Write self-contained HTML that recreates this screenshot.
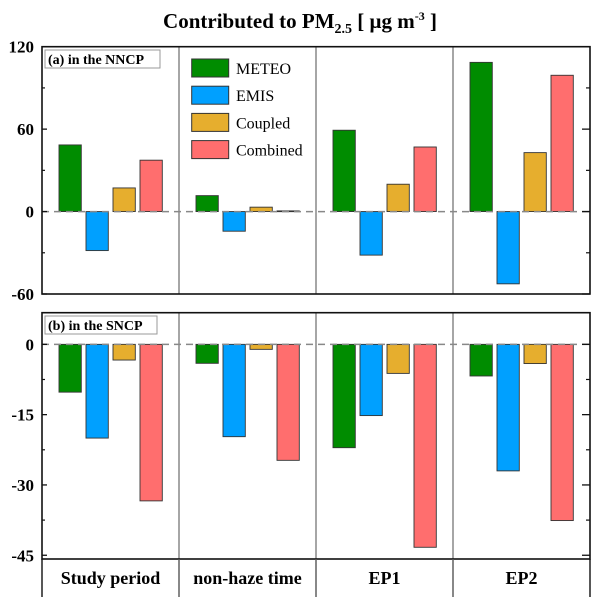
<!DOCTYPE html>
<html><head><meta charset="utf-8"><style>
body{margin:0;background:#fff}
svg{display:block;font-family:"Liberation Serif",serif}
svg text{font-family:"Liberation Serif",serif}
</style></head><body>
<svg id="c" width="600" height="597" viewBox="0 0 600 597">
<text x="300" y="28" text-anchor="middle" font-size="21" font-weight="bold" font-family="Liberation Serif, serif">Contributed to PM<tspan font-size="14" dy="5">2.5</tspan><tspan dy="-5"> [ μg m</tspan><tspan font-size="12" dy="-8">-3</tspan><tspan dy="8"> ]</tspan></text>
<g id="g"></g>
</svg>
<script>
const categories=["Study period","non-haze time","EP1","EP2"];
const seriesNames=["METEO","EMIS","Coupled","Combined"];
const colors=["#008C00","#00A0FF","#E6AE2E","#FF6E6E"];
const nncpMeteo=[48.5,11.6,59.2,108.6];
const nncpEmis=[-28.4,-14.3,-31.7,-52.6];
const nncpCoupled=[17.2,3.2,19.9,42.9];
const nncpCombined=[37.4,0.5,47,99.2];
const sncpMeteo=[-10.2,-4.05,-22.05,-6.75];
const sncpEmis=[-20.0,-19.7,-15.2,-27.0];
const sncpCoupled=[-3.35,-1.07,-6.2,-4.1];
const sncpCombined=[-33.4,-24.75,-43.3,-37.6];
const ticksA=[120,60,0,-60];
const ticksB=[0,-15,-30,-45];
const NS="http://www.w3.org/2000/svg";
const g=document.getElementById('g');
function mk(t,a,p){const e=document.createElementNS(NS,t);for(const k in a)e.setAttribute(k,a[k]);if(t==='text')e.setAttribute('font-family','Liberation Serif, serif');(p||g).appendChild(e);return e;}
const X0=42,X1=590,CW=(X1-X0)/4;
const panels=[
 {top:46.7,bot:294,min:-60,max:120,ticks:ticksA,minor:[90,30,-30],data:[nncpMeteo,nncpEmis,nncpCoupled,nncpCombined],label:"(a) in the NNCP",lab:[45,50,115],name:"panel-a"},
 {top:312.7,bot:559,min:-45.8,max:6.75,ticks:ticksB,minor:[-7.5,-22.5,-37.5],data:[sncpMeteo,sncpEmis,sncpCoupled,sncpCombined],label:"(b) in the SNCP",lab:[45,316,112],name:"panel-b"}
];
panels.forEach(p=>{
 const y=v=>p.bot-(v-p.min)/(p.max-p.min)*(p.bot-p.top);
 const pg=mk('g',{});
 
 
 for(let i=1;i<4;i++){const l=mk('line',{x1:X0+i*CW,x2:X0+i*CW,y1:p.top,y2:p.bot,stroke:'#777','stroke-width':1.3},pg);
  }
 p.data.forEach((arr,s)=>arr.forEach((v,c)=>{
  const x=X0+c*CW+17+s*27;const y0=y(0),y1=y(v);
  const r=mk('rect',{x:x,y:Math.min(y0,y1),width:22.3,height:Math.max(0.8,Math.abs(y1-y0)),fill:colors[s],stroke:'#333','stroke-width':0.9},pg);
  
  
 }));
 const z=mk('line',{x1:X0,x2:X1,y1:y(0),y2:y(0),stroke:'#888','stroke-width':1.5,'stroke-dasharray':'7,5'},pg);
 
 const f=mk('rect',{x:X0,y:p.top,width:X1-X0,height:p.bot-p.top,fill:'none',stroke:'#111','stroke-width':1.6},pg);
 
 p.ticks.forEach(t=>{
  const yy=y(t);
  mk('line',{x1:X0,x2:X0+5,y1:yy,y2:yy,stroke:'#111','stroke-width':1.3},pg);
  mk('line',{x1:X1-8,x2:X1,y1:yy,y2:yy,stroke:'#111','stroke-width':1.3},pg);
  const tx=mk('text',{x:34,y:yy+6,'text-anchor':'end','font-size':17,'font-weight':'bold'},pg);
  tx.textContent=t;
 });
 p.minor.forEach(t=>{const yy=y(t);mk('line',{x1:X0,x2:X0+3,y1:yy,y2:yy,stroke:'#111','stroke-width':1.2},pg);mk('line',{x1:X1-4,x2:X1,y1:yy,y2:yy,stroke:'#111','stroke-width':1.2},pg);});
 const lb=mk('rect',{x:p.lab[0],y:p.lab[1],width:p.lab[2],height:18,fill:'#fff',stroke:'#999','stroke-width':1},pg);
 
 const lt=mk('text',{x:p.lab[0]+3,y:p.lab[1]+14,'font-size':14,'font-weight':'bold'},pg);
 lt.textContent=p.label;
});
for(let i=0;i<=4;i++){mk('line',{x1:X0+i*CW,x2:X0+i*CW,y1:559,y2:597,stroke:i==0||i==4?'#111':'#555','stroke-width':1.4});}
categories.forEach((c,i)=>{
 const t=mk('text',{x:X0+(i+0.5)*CW,y:584,'text-anchor':'middle','font-size':18,'font-weight':'bold'});
 t.textContent=c;
});
const lg=mk('g',{});


seriesNames.forEach((n,i)=>{
 const yy=59+i*27.2;
 const r=mk('rect',{x:191.7,y:yy,width:37,height:18,fill:colors[i],stroke:'#333','stroke-width':1},lg);
 
 const t=mk('text',{x:236,y:yy+15,'font-size':16},lg);
 t.textContent=n;
});
</script>
</body></html>
